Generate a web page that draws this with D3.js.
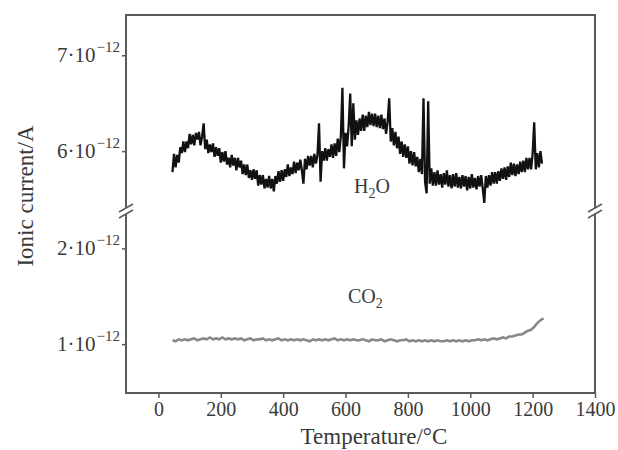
<!DOCTYPE html>
<html>
<head>
<meta charset="utf-8">
<script src="https://cdn.jsdelivr.net/npm/d3@7"></script>
<style>
  body { margin: 0; background: #fff; }
  svg { display: block; font-family: "Liberation Serif", "Times New Roman", serif; }
</style>
</head>
<body>
<div id="chart"></div>
<script>
// readings taken off the plot, in units of 1e-12 A
var h2oStart = 45, h2oStep = 5;
var h2oValues = [
  5.78, 5.97, 5.83, 5.96, 5.88, 6.04, 5.98, 6.10, 5.99, 6.10, 6.03, 6.18, 6.07, 6.17, 6.06, 6.19,
  6.12, 6.20, 6.06, 6.15, 6.29, 6.02, 6.12, 5.98, 6.07, 5.99, 6.08, 5.94, 6.04, 5.95, 6.03, 5.88,
  5.99, 5.89, 6.00, 5.86, 5.93, 5.83, 5.96, 5.85, 5.93, 5.80, 5.93, 5.83, 5.90, 5.76, 5.86, 5.75,
  5.86, 5.72, 5.80, 5.70, 5.81, 5.71, 5.80, 5.64, 5.75, 5.65, 5.75, 5.61, 5.71, 5.62, 5.74, 5.61,
  5.71, 5.58, 5.74, 5.66, 5.79, 5.68, 5.80, 5.69, 5.81, 5.73, 5.86, 5.74, 5.83, 5.76, 5.89, 5.77,
  5.88, 5.80, 5.91, 5.80, 5.66, 5.92, 5.81, 5.95, 5.85, 5.95, 5.83, 5.97, 5.87, 5.96, 6.29, 5.68,
  6.00, 5.90, 6.03, 5.90, 6.02, 5.94, 6.07, 5.93, 6.08, 5.95, 6.13, 5.99, 6.16, 6.66, 5.82, 6.19,
  6.05, 6.26, 6.60, 6.05, 6.50, 6.12, 6.32, 6.17, 6.34, 6.21, 6.38, 6.21, 6.37, 6.25, 6.41, 6.27,
  6.39, 6.26, 6.39, 6.25, 6.37, 6.24, 6.38, 6.23, 6.34, 6.18, 6.31, 6.55, 6.10, 6.24, 6.06, 6.20,
  6.03, 6.15, 5.97, 6.10, 5.94, 6.07, 5.93, 6.05, 5.87, 6.00, 5.85, 5.99, 5.84, 5.94, 5.78, 5.92,
  5.76, 6.55, 5.68, 5.56, 6.52, 5.66, 5.82, 5.64, 5.78, 5.64, 5.80, 5.65, 5.76, 5.62, 5.77, 5.65,
  5.80, 5.63, 5.75, 5.61, 5.76, 5.63, 5.77, 5.62, 5.73, 5.61, 5.75, 5.63, 5.74, 5.59, 5.73, 5.61,
  5.76, 5.62, 5.72, 5.60, 5.74, 5.63, 5.75, 5.61, 5.46, 5.74, 5.62, 5.75, 5.64, 5.78, 5.66, 5.78,
  5.66, 5.79, 5.69, 5.82, 5.71, 5.83, 5.70, 5.84, 5.73, 5.88, 5.75, 5.87, 5.74, 5.86, 5.76, 5.89,
  5.78, 5.90, 5.78, 5.93, 5.81, 5.93, 5.81, 5.97, 6.30, 5.81, 5.98, 5.83, 6.00, 5.87
];

var co2Start = 45, co2Step = 10;
var co2Values = [
  1.04, 1.03, 1.05, 1.04, 1.05, 1.04, 1.05, 1.06, 1.04, 1.05,
  1.06, 1.05, 1.07, 1.05, 1.06, 1.05, 1.07, 1.05, 1.06, 1.05,
  1.06, 1.05, 1.06, 1.04, 1.05, 1.06, 1.04, 1.05, 1.05, 1.06,
  1.04, 1.05, 1.04, 1.05, 1.06, 1.04, 1.05, 1.04, 1.05, 1.04,
  1.05, 1.04, 1.05, 1.04, 1.03, 1.05, 1.04, 1.05, 1.04, 1.05,
  1.04, 1.05, 1.06, 1.04, 1.05, 1.04, 1.05, 1.04, 1.05, 1.04,
  1.04, 1.05, 1.04, 1.03, 1.05, 1.04, 1.04, 1.05, 1.03, 1.04,
  1.05, 1.04, 1.03, 1.04, 1.04, 1.05, 1.03, 1.04, 1.03, 1.04,
  1.03, 1.04, 1.03, 1.04, 1.03, 1.04, 1.03, 1.03, 1.04, 1.03,
  1.04, 1.03, 1.04, 1.03, 1.04, 1.03, 1.04, 1.04, 1.05, 1.04,
  1.05, 1.04, 1.05, 1.06, 1.05, 1.06, 1.07, 1.06, 1.08, 1.08,
  1.09, 1.10, 1.10, 1.12, 1.14, 1.15, 1.18, 1.22, 1.25, 1.27
];

var xTicks = [0, 200, 400, 600, 800, 1000, 1200, 1400];
var upperTicks = [6, 7];
var lowerTicks = [1, 2];

var width = 618, height = 450;
var box = {left: 126, right: 595, top: 15, bottom: 393, brk: 211};

var svg = d3.select("#chart").append("svg")
    .attr("width", width)
    .attr("height", height);

var xScale = d3.scaleLinear().domain([-104, 1400]).range([box.left, box.right]);
var yUpper = d3.scaleLinear().domain([5.375, 7.42]).range([box.brk, box.top]);
var yLower = d3.scaleLinear().domain([0.49, 2.39]).range([box.bottom, box.brk]);

var axisColor = "#5a5a5a";
var textColor = "#3a3a3a";
var serif = "Liberation Serif, Times New Roman, serif";

// x axis
var xAxis = d3.axisBottom(xScale).tickValues(xTicks).tickSize(5).tickSizeOuter(0)
    .tickPadding(4).tickFormat(d3.format("d"));
var gx = svg.append("g")
    .attr("transform", "translate(0," + box.bottom + ")")
    .call(xAxis);
gx.select(".domain").remove();
gx.selectAll(".tick line").attr("stroke", axisColor).attr("stroke-width", 1.5);
gx.selectAll(".tick text")
    .attr("fill", textColor)
    .style("font-size", "20px")
    .style("font-family", serif);

// y axes, labels like 6·10^-12
function yAxisPart(scale, ticks) {
    var g = svg.append("g")
        .attr("transform", "translate(" + box.left + ",0)")
        .call(d3.axisLeft(scale).tickValues(ticks).tickSize(4).tickSizeOuter(0).tickFormat(""));
    g.select(".domain").remove();
    g.selectAll(".tick line").attr("stroke", axisColor).attr("stroke-width", 1.5);
    g.selectAll(".tick").each(function(d) {
        var t = d3.select(this).append("text")
            .attr("x", -6)
            .attr("y", 6)
            .attr("text-anchor", "end")
            .attr("fill", textColor)
            .style("font-size", "21px")
            .style("font-family", serif);
        t.append("tspan").text(d + "\u00b710");
        t.append("tspan").attr("dx", 1).attr("dy", -10).style("font-size", "15px").text("\u221212");
    });
}
yAxisPart(yUpper, upperTicks);
yAxisPart(yLower, lowerTicks);

// data lines
var h2oLine = d3.line()
    .x(function(d, i) { return xScale(h2oStart + i * h2oStep); })
    .y(function(d) { return yUpper(d); });
var co2Line = d3.line()
    .x(function(d, i) { return xScale(co2Start + i * co2Step); })
    .y(function(d) { return yLower(d); });

svg.append("path")
    .datum(h2oValues)
    .attr("d", h2oLine)
    .attr("fill", "none")
    .attr("stroke", "#111")
    .attr("stroke-width", 2.3)
    .attr("stroke-linejoin", "bevel");

svg.append("path")
    .datum(co2Values)
    .attr("d", co2Line)
    .attr("fill", "none")
    .attr("stroke", "#888")
    .attr("stroke-width", 2.6);

// frame with broken side axes
var frame = svg.append("g")
    .attr("stroke", axisColor)
    .attr("stroke-width", 2)
    .attr("fill", "none");
frame.append("path").attr("d",
    "M" + box.left + "," + (box.brk - 3) + "V" + box.top + "H" + box.right + "V" + (box.brk - 3) +
    "M" + box.left + "," + (box.brk + 3) + "V" + box.bottom + "H" + box.right + "V" + (box.brk + 3));

[box.left, box.right].forEach(function(x) {
    [-3, 3].forEach(function(off) {
        frame.append("line")
            .attr("x1", x - 7).attr("y1", box.brk + off + 4)
            .attr("x2", x + 7).attr("y2", box.brk + off - 4)
            .attr("stroke-width", 1.5);
    });
});

// series labels
function chemLabel(x, y, a, sub, b) {
    var t = svg.append("text")
        .attr("x", x).attr("y", y)
        .attr("fill", textColor)
        .style("font-size", "20px");
    t.append("tspan").text(a);
    t.append("tspan").attr("dy", 5).style("font-size", "14px").text(sub);
    if (b) t.append("tspan").attr("dy", -5).text(b);
}
chemLabel(354, 193, "H", "2", "O");
chemLabel(348, 303, "CO", "2", null);

// axis titles
svg.append("text")
    .attr("x", 374).attr("y", 444)
    .attr("text-anchor", "middle")
    .attr("fill", textColor)
    .style("font-size", "23px")
    .text("Temperature/\u00b0C");

svg.append("text")
    .attr("transform", "translate(33,196) rotate(-90)")
    .attr("text-anchor", "middle")
    .attr("fill", textColor)
    .style("font-size", "23px")
    .text("Ionic current/A");
</script>
</body>
</html>
